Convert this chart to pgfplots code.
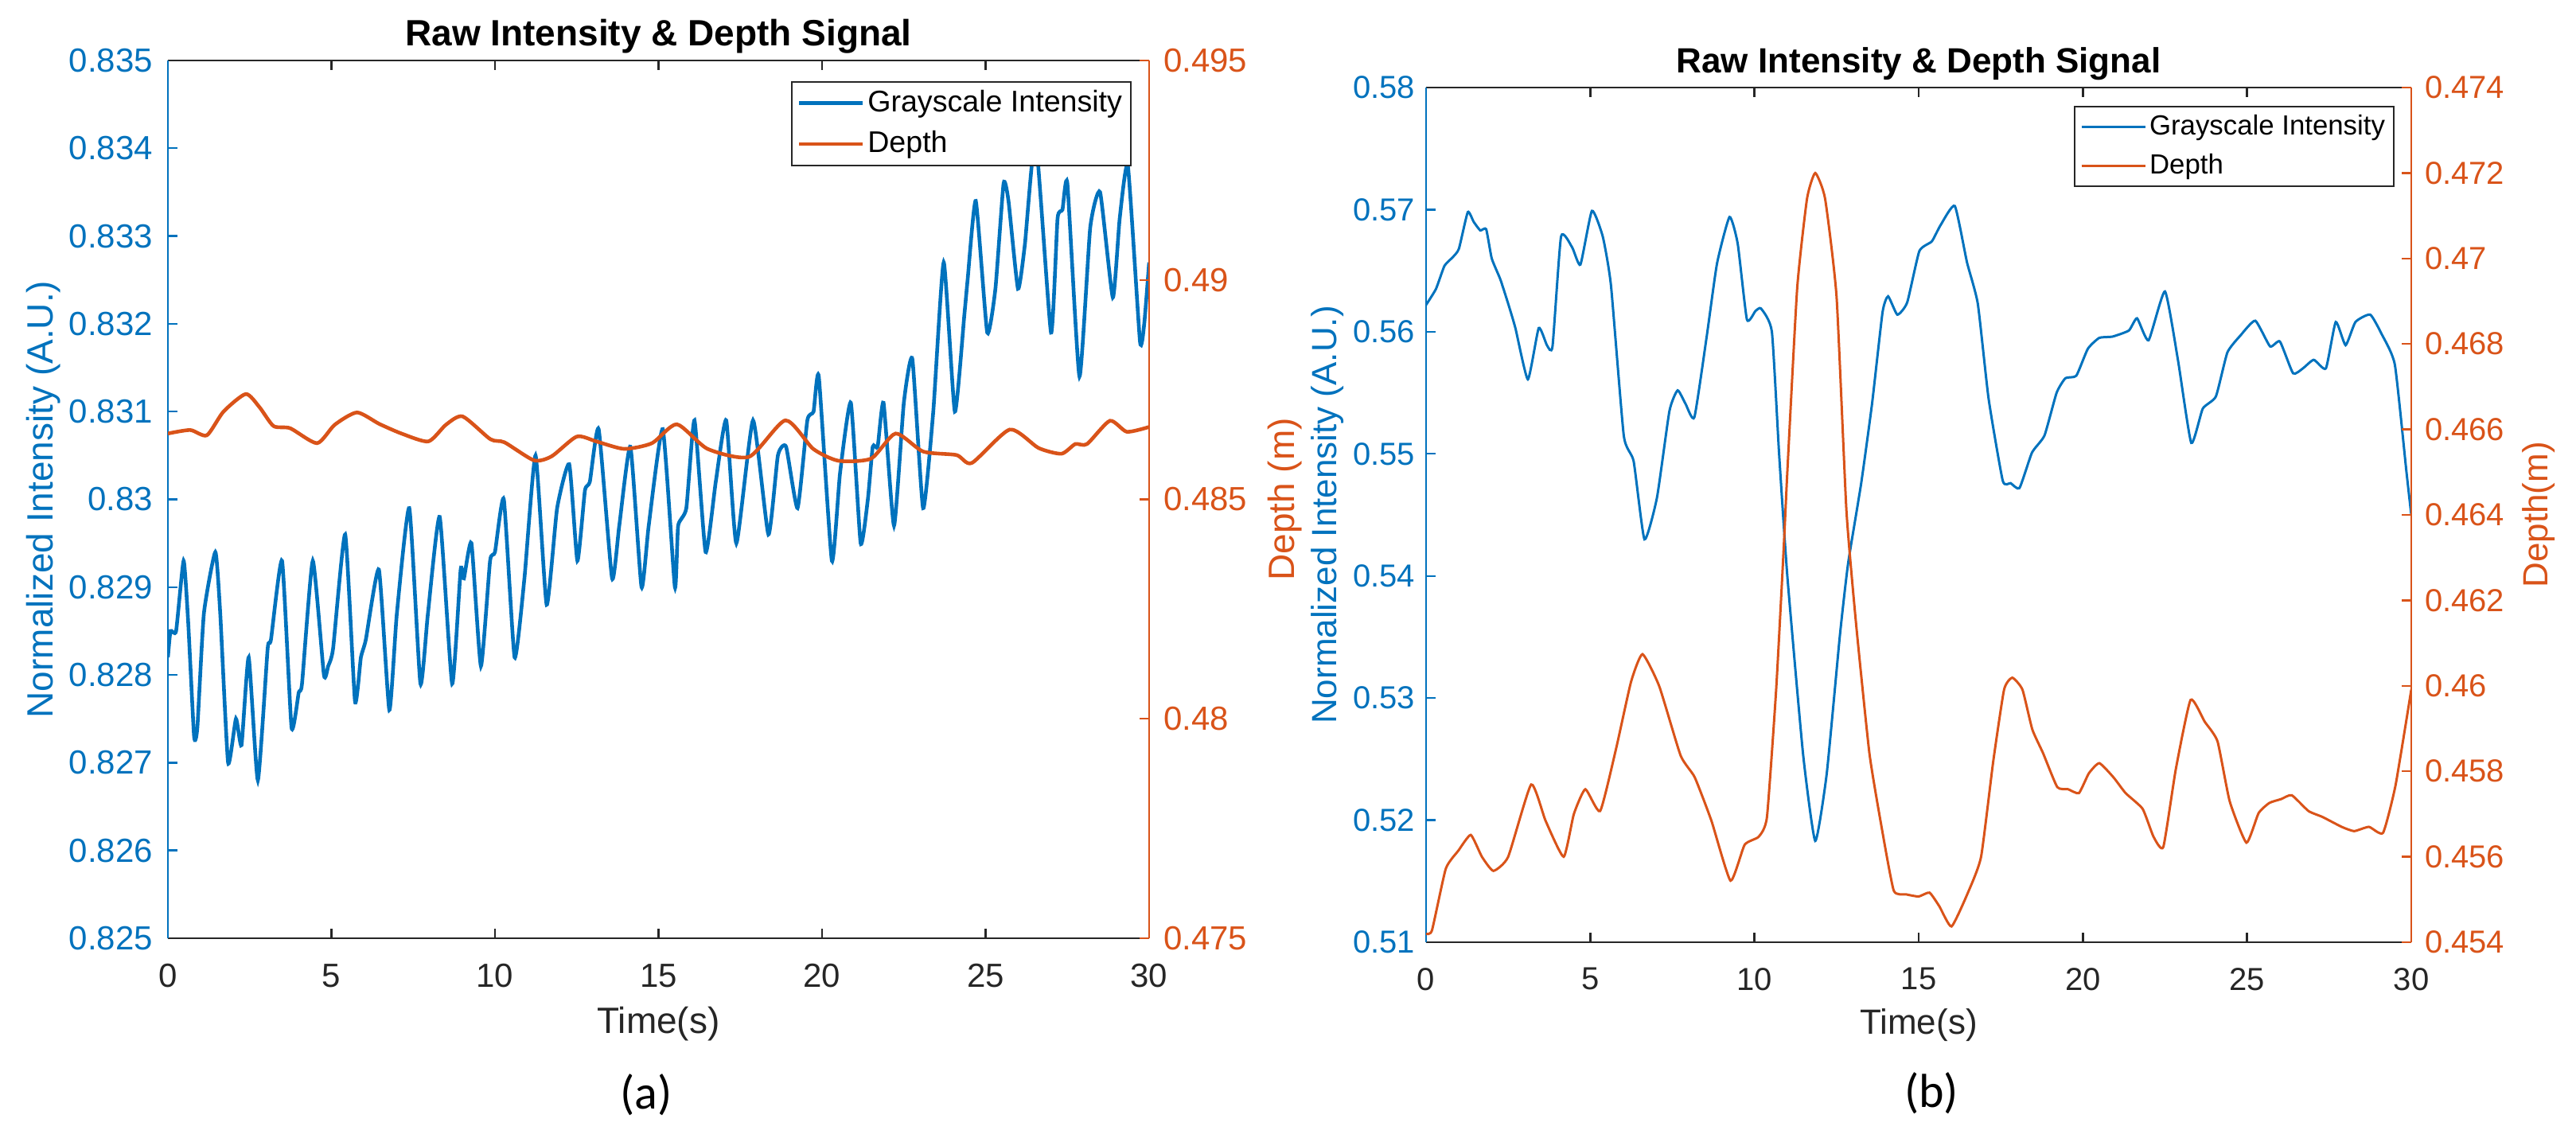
\documentclass[border=0pt]{standalone}
\usepackage{fontspec}
\setmainfont{Liberation Sans}
\newfontfamily\calibri{Carlito}
\usepackage{pgfplots}
\pgfplotsset{compat=1.18}

\definecolor{mblue}{RGB}{0,114,189}
\definecolor{morange}{RGB}{217,83,25}
\definecolor{mdark}{RGB}{38,38,38}

% shared MATLAB-like look for the axes
\pgfplotsset{
  every axis title shift=0pt,
  mlbase/.style={
    scale only axis,
    xmin=0, xmax=30,
    tick align=inside,
    major tick length=3pt,
    xtick={0,5,10,15,20,25,30},
    xticklabels={0,5,10,15,20,25,30},
    legend cell align=left,
    legend image code/.code={\draw[#1] (0pt,0pt) -- (20pt,0pt);},
  },
  mlleft/.style={
    mlbase,
    axis x line*=box, axis y line*=left,
    x axis line style={draw=mdark, line width=0.6pt},
    y axis line style={draw=mblue, line width=0.6pt},
    xtick style={draw=mdark, line width=0.6pt},
    ytick style={draw=mblue, line width=0.6pt},
  },
  mlright/.style={
    mlbase,
    axis x line=none, axis y line*=right,
    y axis line style={draw=morange, line width=0.6pt},
    ytick style={draw=morange, line width=0.6pt},
  },
}

\begin{document}
\begin{tikzpicture}
\useasboundingbox (0pt,0pt) rectangle (809.25pt,-357.5pt);

%% ---------------- panel (a) ----------------
\begin{axis}[
  mlleft,
  at={(52.75pt,-294.75pt)}, anchor=south west,
  width=308.25pt, height=275.75pt,
  ymin=0.825, ymax=0.835,
  ytick={0.825,0.826,0.827,0.828,0.829,0.830,0.831,0.832,0.833,0.834,0.835},
  yticklabels={0.825,0.826,0.827,0.828,0.829,0.83,0.831,0.832,0.833,0.834,0.835},
  xticklabel style={font=\fontsize{10.5}{12}\selectfont, text=mdark, yshift=-4.5pt},
  yticklabel style={font=\fontsize{10.5}{12}\selectfont, text=mblue, xshift=-1.25pt},
  title={Raw Intensity \& Depth Signal},
  title style={font=\bfseries\fontsize{11.5}{13}\selectfont, at={(axis description cs:0.5,1.0172)}, anchor=base, yshift=0pt},
  xlabel={Time(s)},
  xlabel style={font=\fontsize{11.5}{13}\selectfont, text=mdark, at={(axis description cs:0.5,-0.1088)}, anchor=base},
  ylabel={Normalized Intensity (A.U.)},
  ylabel style={font=\fontsize{11.5}{13}\selectfont, text=mblue, at={(axis description cs:-0.1265,0.5)}, anchor=center},
]
\addplot[mblue, line width=1.15pt, smooth, tension=0.3] coordinates {
(0,0.8282)(0.08,0.8285)(0.25,0.8285)(0.48,0.8293)(0.62,0.8286)(0.8,0.8273)(0.9,0.8274)
(1.1,0.8287)(1.45,0.8294)(1.6,0.8287)(1.84,0.8270)(2.08,0.8275)(2.25,0.8272)(2.47,0.8282)
(2.75,0.8268)(3.05,0.8283)(3.15,0.8284)(3.49,0.8293)(3.78,0.8274)(4.0,0.8278)(4.1,0.8279)
(4.43,0.8293)(4.77,0.8280)(4.9,0.8281)(5.05,0.8283)(5.42,0.8296)(5.72,0.8277)(5.9,0.8282)
(6.05,0.8284)(6.45,0.8292)(6.77,0.8276)(7.0,0.8287)(7.38,0.8299)(7.72,0.8279)(7.95,0.8287)
(8.31,0.8298)(8.69,0.8279)(8.95,0.8292)(9.05,0.8291)(9.28,0.8295)(9.57,0.8281)(9.85,0.8293)
(10.0,0.8294)(10.27,0.8300)(10.6,0.8282)(10.9,0.8291)(11.24,0.8305)(11.58,0.8288)(11.9,0.8299)
(12.27,0.8304)(12.52,0.8293)(12.75,0.8301)(12.9,0.8302)(13.17,0.8308)(13.58,0.8291)(13.8,0.8297)
(14.14,0.8306)(14.48,0.8290)(14.7,0.8297)(15.13,0.8308)(15.5,0.8290)(15.6,0.8297)(15.85,0.8299)
(16.1,0.8309)(16.44,0.8294)(16.75,0.8302)(17.07,0.8309)(17.38,0.8295)(17.89,0.8309)(18.36,0.8296)
(18.65,0.8305)(18.9,0.8306)(19.25,0.8299)(19.55,0.8309)(19.74,0.8310)(19.9,0.8314)(20.3,0.8293)
(20.55,0.8303)(20.88,0.8311)(21.18,0.8295)(21.4,0.8300)(21.55,0.8306)(21.7,0.8306)(21.88,0.8311)
(22.2,0.8297)(22.5,0.8311)(22.76,0.8316)(23.09,0.8299)(23.4,0.8310)(23.72,0.8327)(24.06,0.8310)
(24.35,0.8321)(24.45,0.8325)(24.7,0.8334)(25.05,0.8319)(25.3,0.8324)(25.55,0.8336)(25.7,0.8334)
(25.99,0.8324)(26.2,0.8329)(26.53,0.8341)(27.0,0.8319)(27.2,0.8332)(27.35,0.8333)(27.5,0.8336)
(27.87,0.8314)(28.2,0.8331)(28.5,0.8335)(28.89,0.8323)(29.1,0.8332)(29.35,0.8338)(29.72,0.8318)
(29.85,0.8320)(30,0.8327)
};
\end{axis}

\begin{axis}[
  mlright,
  at={(52.75pt,-294.75pt)}, anchor=south west,
  width=308.25pt, height=275.75pt,
  ymin=0.475, ymax=0.495,
  ytick={0.475,0.48,0.485,0.49,0.495},
  yticklabels={0.475,0.48,0.485,0.49,0.495},
  yticklabel style={font=\fontsize{10.5}{12}\selectfont, text=morange, xshift=1pt},
  ylabel={Depth (m)},
  ylabel style={font=\fontsize{11.5}{13}\selectfont, text=morange, at={(axis description cs:1.1387,0.5)}, anchor=center},
  legend style={at={(axis description cs:0.9822,0.9764)}, anchor=north east,
    draw=mdark, line width=0.5pt, fill=white,
    font=\fontsize{9.4}{11}\selectfont,
    inner xsep=1.75pt, inner ysep=1pt, row sep=1.5pt,
    nodes={inner xsep=1pt, inner ysep=1.5pt}},
]
\addlegendimage{mblue, line width=1.15pt}
\addlegendentry{Grayscale Intensity}
\addplot[morange, line width=1.15pt, smooth, tension=0.4] coordinates {
(0,0.4865)(0.68,0.48658)(1.19,0.48646)(1.7,0.4870)(2.38,0.4874)(2.8,0.4871)(3.23,0.48667)
(3.74,0.48662)(4.56,0.48628)(5.1,0.4867)(5.78,0.48698)(6.46,0.48672)(7.14,0.48650)(7.96,0.48632)
(8.5,0.4867)(9.01,0.48689)(9.86,0.48637)(10.29,0.48630)(11.19,0.48589)(11.73,0.48598)(12.5,0.48643)
(13.1,0.48632)(13.95,0.48615)(14.8,0.48628)(15.56,0.48671)(16.5,0.48615)(17.77,0.48597)(18.88,0.48680)
(19.73,0.48615)(20.5,0.48588)(21.5,0.48593)(22.25,0.48650)(23.09,0.48609)(24.11,0.48601)(24.58,0.48583)
(25.74,0.48659)(26.62,0.48617)(27.32,0.48604)(27.74,0.48626)(28.1,0.48626)(28.8,0.48679)(29.32,0.48654)
(30,0.48665)
};
\addlegendentry{Depth}
\end{axis}

%% ---------------- panel (b) ----------------
\begin{axis}[
  mlleft,
  at={(448pt,-296pt)}, anchor=south west,
  width=309.5pt, height=268.5pt,
  ymin=0.51, ymax=0.58,
  ytick={0.51,0.52,0.53,0.54,0.55,0.56,0.57,0.58},
  yticklabels={0.51,0.52,0.53,0.54,0.55,0.56,0.57,0.58},
  xticklabel style={font=\fontsize{10}{12}\selectfont, text=mdark, yshift=-4.5pt},
  yticklabel style={font=\fontsize{10}{12}\selectfont, text=mblue},
  title={Raw Intensity \& Depth Signal},
  title style={font=\bfseries\fontsize{11}{13}\selectfont, at={(axis description cs:0.5,1.0177)}, anchor=base, yshift=0pt},
  xlabel={Time(s)},
  xlabel style={font=\fontsize{11}{13}\selectfont, text=mdark, at={(axis description cs:0.5,-0.1071)}, anchor=base},
  ylabel={Normalized Intensity (A.U.)},
  ylabel style={font=\fontsize{11}{13}\selectfont, text=mblue, at={(axis description cs:-0.1002,0.5)}, anchor=center},
]
\addplot[mblue, line width=0.75pt, smooth, tension=0.3] coordinates {
(0,0.5622)(0.3,0.5635)(0.56,0.5654)(0.81,0.5661)(1.0,0.5668)(1.27,0.5698)(1.45,0.5690)(1.65,0.5683)
(1.83,0.5684)(2.0,0.5660)(2.26,0.5643)(2.5,0.5623)(2.72,0.5603)(3.1,0.5561)(3.43,0.5603)(3.68,0.5589)
(3.85,0.5588)(4.11,0.5678)(4.45,0.5669)(4.7,0.5655)(5.05,0.5699)(5.38,0.5678)(5.63,0.5638)(6.02,0.5515)
(6.32,0.5494)(6.65,0.5430)(7.03,0.5464)(7.41,0.5535)(7.66,0.5552)(7.9,0.5541)(8.17,0.5530)(8.55,0.5597)
(8.86,0.5656)(9.24,0.5694)(9.49,0.5672)(9.77,0.5610)(10.03,0.5617)(10.2,0.5619)(10.53,0.5600)(10.75,0.5500)
(11.0,0.5400)(11.48,0.5254)(11.85,0.5183)(12.2,0.5238)(12.6,0.5351)(12.85,0.5410)(13.25,0.5476)(13.58,0.5541)
(13.9,0.5616)(14.07,0.5629)(14.35,0.5614)(14.65,0.5624)(15.02,0.5666)(15.4,0.5674)(15.66,0.5687)(16.1,0.5703)
(16.47,0.5657)(16.8,0.5623)(17.13,0.5545)(17.56,0.5478)(17.8,0.5476)(18.07,0.5472)(18.45,0.5501)(18.83,0.5515)
(19.2,0.5550)(19.47,0.5562)(19.8,0.5564)(20.15,0.5586)(20.5,0.5595)(20.9,0.5596)(21.4,0.5601)(21.65,0.5611)
(22.0,0.5593)(22.5,0.5633)(22.9,0.5576)(23.3,0.5509)(23.65,0.5537)(24.05,0.5547)(24.4,0.5583)(24.8,0.5597)
(25.25,0.5609)(25.7,0.5588)(26.0,0.5592)(26.4,0.5566)(26.7,0.5570)(27.03,0.5577)(27.4,0.5570)(27.7,0.5608)
(28.0,0.5589)(28.3,0.5608)(28.75,0.5614)(29.1,0.5598)(29.5,0.5573)(29.85,0.5486)(30,0.5450)
};
\end{axis}

\begin{axis}[
  mlright,
  at={(448pt,-296pt)}, anchor=south west,
  width=309.5pt, height=268.5pt,
  ymin=0.454, ymax=0.474,
  ytick={0.454,0.456,0.458,0.460,0.462,0.464,0.466,0.468,0.470,0.472,0.474},
  yticklabels={0.454,0.456,0.458,0.46,0.462,0.464,0.466,0.468,0.47,0.472,0.474},
  yticklabel style={font=\fontsize{10}{12}\selectfont, text=morange, xshift=0.75pt},
  ylabel={Depth(m)},
  ylabel style={font=\fontsize{11}{13}\selectfont, text=morange, at={(axis description cs:1.1292,0.5)}, anchor=center},
  legend style={at={(axis description cs:0.9830,0.9786)}, anchor=north east,
    draw=mdark, line width=0.5pt, fill=white,
    font=\fontsize{8.7}{10}\selectfont,
    inner xsep=1.75pt, inner ysep=1pt, row sep=1.5pt,
    nodes={inner xsep=1pt, inner ysep=1.5pt}},
]
\addlegendimage{mblue, line width=0.75pt}
\addlegendentry{Grayscale Intensity}
\addplot[morange, line width=0.75pt, smooth, tension=0.3] coordinates {
(0,0.4542)(0.18,0.45428)(0.6,0.45572)(0.98,0.45614)(1.36,0.45651)(1.7,0.4560)(2.05,0.45567)(2.5,0.45600)
(3.2,0.45769)(3.64,0.45684)(4.19,0.45600)(4.5,0.4570)(4.85,0.45758)(5.3,0.45707)(5.78,0.45851)(6.24,0.46009)
(6.59,0.46074)(7.1,0.45999)(7.75,0.45837)(8.18,0.45786)(8.69,0.45684)(9.27,0.45544)(9.7,0.45628)(10.13,0.45647)
(10.38,0.45693)(10.66,0.45991)(10.88,0.46307)(11.0,0.4650)(11.3,0.4693)(11.6,0.4714)(11.85,0.4720)(12.15,0.4714)
(12.5,0.4691)(12.8,0.4641)(13.1,0.46140)(13.5,0.45842)(13.86,0.45674)(14.24,0.45521)(14.62,0.45512)(15.0,0.45507)
(15.33,0.45516)(15.63,0.45484)(16.0,0.45437)(16.5,0.45516)(16.9,0.45600)(17.27,0.45823)(17.6,0.45991)(17.85,0.46019)
(18.16,0.45991)(18.46,0.45898)(18.79,0.45842)(19.22,0.45763)(19.55,0.45758)(19.88,0.45749)(20.18,0.45795)(20.5,0.45819)
(20.93,0.45786)(21.3,0.45749)(21.82,0.45712)(22.15,0.45647)(22.45,0.45623)(22.83,0.45805)(23.28,0.45967)(23.71,0.45916)
(24.1,0.45870)(24.47,0.45730)(24.98,0.45633)(25.35,0.45702)(25.68,0.45726)(26.04,0.45735)(26.36,0.45744)(26.87,0.45707)
(27.3,0.45693)(27.88,0.45670)(28.26,0.45660)(28.71,0.45670)(29.14,0.45656)(29.52,0.45767)(30,0.45991)
};
\addlegendentry{Depth}
\end{axis}

% sub-figure captions
\node[font=\calibri\fontsize{15}{18}\selectfont, text=black] at (203pt,-344pt) {(a)};
\node[font=\calibri\fontsize{15}{18}\selectfont, text=black] at (606.75pt,-343.5pt) {(b)};
\end{tikzpicture}
\end{document}
